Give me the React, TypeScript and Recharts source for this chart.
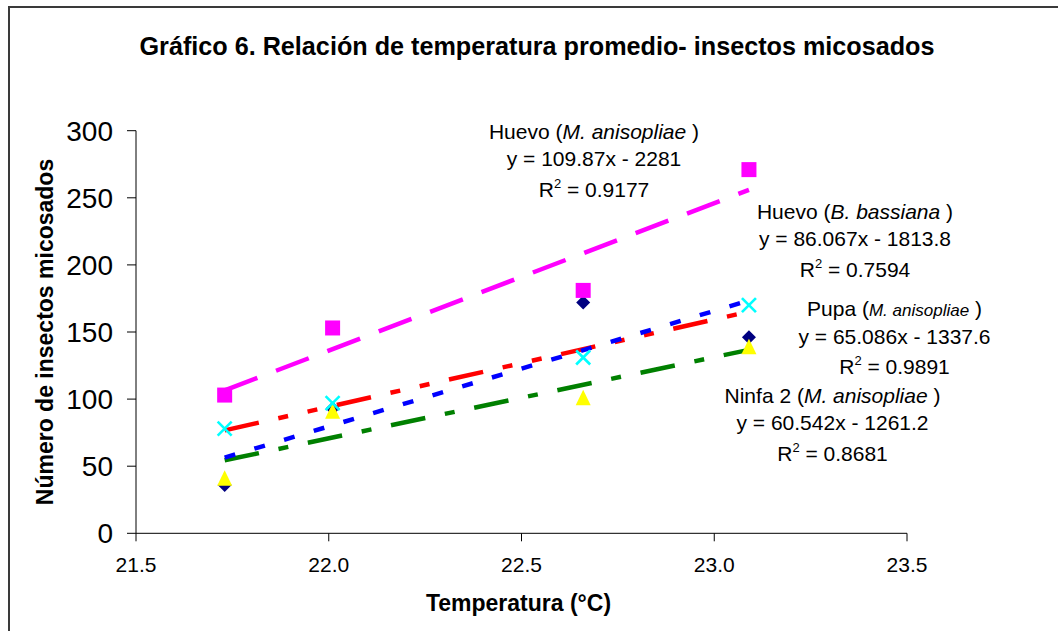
import React from "react";
import { ComposedChart, Line, Scatter, XAxis, YAxis } from "recharts";

// temperatura promedio (°C) de cada muestreo
const temperatura = [21.73, 22.01, 22.66, 23.09];

// insectos micosados por estado / hongo
const huevoBassiana = [36, 93, 172, 146];
const huevoAnisopliae = [103, 153, 181, 271];
const ninfa2Anisopliae = [41, 91, 101, 139];
const pupaAnisopliae = [78, 97, 131, 170];

// líneas de tendencia (extremos)
const trendX = [21.73, 23.09];
const trendHuevoAnisopliae = [106.5, 255.9];
const trendHuevoBassiana = [56.4, 173.5];
const trendPupa = [76.7, 165.2];
const trendNinfa2 = [54.4, 136.7];

const xTicks = [21.5, 22.0, 22.5, 23.0, 23.5];
const yTicks = [0, 50, 100, 150, 200, 250, 300];

const FONT = "'Liberation Sans', Arial, Helvetica, sans-serif";

const toPoints = (xs: number[], ys: number[]) => xs.map((x, i) => ({ x, y: ys[i] }));

const Diamond = ({ cx, cy }: any) => (
  <path d={`M${cx},${cy - 7}L${cx + 7},${cy}L${cx},${cy + 7}L${cx - 7},${cy}Z`} fill="#000080" />
);
const Square = ({ cx, cy }: any) => (
  <rect x={cx - 7.5} y={cy - 7.5} width={15} height={15} fill="#ff00ff" />
);
const Triangle = ({ cx, cy }: any) => (
  <path d={`M${cx},${cy - 8}L${cx + 7.5},${cy + 7.5}L${cx - 7.5},${cy + 7.5}Z`} fill="#ffff00" />
);
const Cross = ({ cx, cy }: any) => (
  <g stroke="#00ffff" strokeWidth={2.6}>
    <line x1={cx - 7} y1={cy - 7} x2={cx + 7} y2={cy + 7} />
    <line x1={cx - 7} y1={cy + 7} x2={cx + 7} y2={cy - 7} />
  </g>
);

function TrendLabel({ x, y, name, species, eq, r2, small }: any) {
  return (
    <text x={x} y={y} textAnchor="middle" fontFamily={FONT} fontSize={21} fill="#000">
      <tspan x={x} y={y}>
        {name} (
        <tspan fontStyle="italic" fontSize={small ? 17 : 21}>{species}</tspan>
        {" )"}
      </tspan>
      <tspan x={x} y={y + 27.5}>{eq}</tspan>
      <tspan x={x} y={y + 58}>
        R
        <tspan fontSize={13} dy={-9}>2</tspan>
        <tspan dy={9}>{" = " + r2}</tspan>
      </tspan>
    </text>
  );
}

export default function App() {
  return (
    <div style={{ position: "absolute", left: 0, top: 0, width: 1058, height: 631, overflow: "hidden", background: "#fff" }}>
      <div style={{ position: "absolute", left: 8, top: 6, width: 1100, height: 700, border: "2px solid #3a3a3a", boxSizing: "border-box" }} />
      <div style={{ position: "absolute", left: 0, top: 0 }}>
        <ComposedChart width={1058} height={631} margin={{ top: 130.7, right: 151, bottom: 67.7, left: 76 }}>
          <XAxis
            type="number"
            dataKey="x"
            domain={[21.5, 23.5]}
            ticks={xTicks}
            interval={0}
            tickFormatter={(v: number) => v.toFixed(1)}
            tickSize={8}
            tickMargin={16}
            axisLine={{ stroke: "#000" }}
            tickLine={{ stroke: "#000" }}
            tick={{ fill: "#000", fontSize: 21, fontFamily: FONT }}
          />
          <YAxis
            type="number"
            dataKey="y"
            domain={[0, 300]}
            ticks={yTicks}
            interval={0}
            width={60}
            tickSize={9}
            tickMargin={14}
            axisLine={{ stroke: "#000" }}
            tickLine={{ stroke: "#000" }}
            tick={{ fill: "#000", fontSize: 28, fontFamily: FONT }}
          />
          <Line data={toPoints(trendX, trendHuevoAnisopliae)} dataKey="y" type="linear" stroke="#ff00ff" strokeWidth={4.5} strokeDasharray="35 20" dot={false} activeDot={false} isAnimationActive={false} />
          <Line data={toPoints(trendX, trendPupa)} dataKey="y" type="linear" stroke="#ff0000" strokeWidth={4.5} strokeDasharray="35 20 10 20 10 20" dot={false} activeDot={false} isAnimationActive={false} />
          <Line data={toPoints(trendX, trendNinfa2)} dataKey="y" type="linear" stroke="#008000" strokeWidth={4.5} strokeDasharray="35 20 10 20" dot={false} activeDot={false} isAnimationActive={false} />
          <Line data={toPoints(trendX, trendHuevoBassiana)} dataKey="y" type="linear" stroke="#0000ff" strokeWidth={4.5} strokeDasharray="11 20" dot={false} activeDot={false} isAnimationActive={false} />
          <Scatter data={toPoints(temperatura, huevoBassiana)} shape={Diamond} isAnimationActive={false} />
          <Scatter data={toPoints(temperatura, huevoAnisopliae)} shape={Square} isAnimationActive={false} />
          <Scatter data={toPoints(temperatura, ninfa2Anisopliae)} shape={Triangle} isAnimationActive={false} />
          <Scatter data={toPoints(temperatura, pupaAnisopliae)} shape={Cross} isAnimationActive={false} />
        </ComposedChart>
      </div>
      <svg width={1058} height={631} style={{ position: "absolute", left: 0, top: 0, pointerEvents: "none" }}>
        <text x={537} y={55} textAnchor="middle" fontFamily={FONT} fontSize={25.2} fontWeight="bold" fill="#000">
          Gráfico 6. Relación de temperatura promedio- insectos micosados
        </text>
        <text x={518.5} y={611} textAnchor="middle" fontFamily={FONT} fontSize={23} fontWeight="bold" fill="#000">
          Temperatura (°C)
        </text>
        <text x={53} y={332} transform="rotate(-90 53 332)" textAnchor="middle" fontFamily={FONT} fontSize={23} fontWeight="bold" fill="#000">
          Número de insectos micosados
        </text>
        <TrendLabel x={594} y={138.5} name="Huevo" species="M. anisopliae" eq="y = 109.87x - 2281" r2="0.9177" />
        <TrendLabel x={855} y={218.5} name="Huevo" species="B. bassiana" eq="y = 86.067x - 1813.8" r2="0.7594" />
        <TrendLabel x={894.5} y={316} name="Pupa" species="M. anisopliae" eq="y = 65.086x - 1337.6" r2="0.9891" small />
        <TrendLabel x={832.5} y={402.5} name="Ninfa 2" species="M. anisopliae" eq="y = 60.542x - 1261.2" r2="0.8681" />
      </svg>
    </div>
  );
}
